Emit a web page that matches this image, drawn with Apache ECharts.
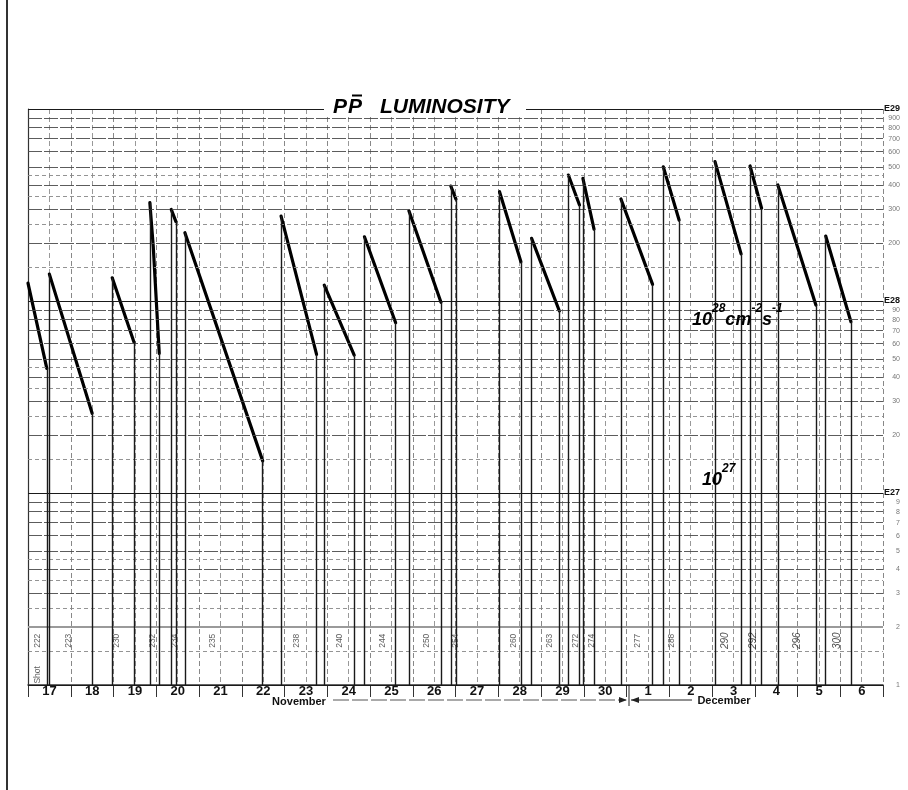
<!DOCTYPE html>
<html><head><meta charset="utf-8">
<script src="https://cdn.jsdelivr.net/npm/echarts@6/dist/echarts.min.js"></script>
<style>html,body{margin:0;padding:0;background:#fff}#c{width:908px;height:790px}</style>
</head><body><div id="c"></div>
<script>
// Day labels (Nov 17 .. Dec 6); x = days since Nov 17 00:00
const dayLabels = ['17','18','19','20','21','22','23','24','25','26','27','28','29','30','1','2','3','4','5','6'];

// Log grid (units of 1e26 cm^-2 s^-1)
const gridMajor = [1,2,3,4,5,6,7,8,9,10,20,30,40,50,60,70,80,90,100,200,300,400,500,600,700,800,900,1000];
const gridMajorLabels = ['1','2','3','4','5','6','7','8','9','E27','20','30','40','50','60','70','80','90','E28','200','300','400','500','600','700','800','900','E29'];
const gridHalf = [1.5,2.5,3.5,4.5,15,25,35,45,150,250,350,450];

// Stores: start, optional mid point, end (day, luminosity in 1e26)
const startDay = [0.00, 0.50, 1.97, 2.85, 3.35, 3.67, 5.92, 6.93, 7.87, 8.91, 9.89, 11.03, 11.78, 12.64, 12.98, 13.87, 14.86, 16.07, 16.89, 17.54, 18.66];
const startLum = [124, 138, 132, 325, 300, 227, 277, 121, 216, 295, 397, 371, 212, 453, 435, 340, 500, 532, 505, 402, 218];
const midDay   = [null, null, null, 2.93, null, null, null, null, null, null, null, null, null, null, null, null, null, null, null, null, null];
const midLum   = [null, null, null, 192, null, null, null, null, null, null, null, null, null, null, null, null, null, null, null, null, null];
const endDay   = [0.44, 1.50, 2.48, 3.07, 3.46, 5.49, 6.75, 7.63, 8.60, 9.66, 10.01, 11.53, 12.43, 12.90, 13.24, 14.61, 15.23, 16.68, 17.16, 18.43, 19.25];
const endLum   = [44.6, 26.0, 61.0, 53.4, 259, 14.7, 52.7, 52.3, 77.1, 98.4, 339, 160, 88.7, 316, 237, 122, 264, 176, 304, 95.3, 78.0];

// Shot numbers written along the bottom
const shotNames = ['222','223','230','232','234','235','238','240','244','250','254','260','263','272','274','277','288','290','292','296','300'];
const shotDays  = [0.23, 0.94, 2.08, 2.92, 3.44, 4.33, 6.29, 7.30, 8.30, 9.33, 10.01, 11.35, 12.21, 12.80, 13.19, 14.27, 15.06, 16.30, 16.96, 17.99, 18.93];
const shotLevel = 1.7;
const shotWordDay = 0.23, shotWordLevel = 1.13;

const chart = echarts.init(document.getElementById('c'), null, {renderer:'canvas'});
const FONT = 'Liberation Sans, Arial, sans-serif';

const gridLineData = [];
gridMajor.forEach((v, i) => {
  const isE = gridMajorLabels[i].charAt(0) === 'E';
  const isDecade = isE || v === 1;
  gridLineData.push({
    yAxis: v,
    lineStyle: isDecade ? {color:'#1a1a1a', width:1.1, type:'solid'}
             : (v === 2 ? {color:'#9a9a9a', width:2, type:'solid'} : {color:'#4a4a4a', width:0.9, type:[14,2]}),
    label: {
      show: true, position: 'end', distance: isE ? 1 : 3,
      formatter: isE ? '{e|' + gridMajorLabels[i] + '}' : '{n|' + gridMajorLabels[i] + '}',
      rich: {
        e: {fontSize: 9, fontWeight: 'bold', color: '#111', fontFamily: FONT},
        n: {fontSize: 7, color: '#777', width: 14, align: 'right', fontFamily: FONT}
      }
    }
  });
});
gridHalf.forEach(v => {
  gridLineData.push({yAxis: v, lineStyle: {color:'#888', width:0.9, type:[4,3]}, label:{show:false}});
});

const series = [];
series.push({
  type: 'scatter', data: [[0, 1]], symbolSize: 0, silent: true, z: 1, animation: false,
  markLine: {silent: true, symbol: ['none','none'], animation: false, data: gridLineData, emphasis:{disabled:true}}
});

for (let i = 0; i < startDay.length; i++) {
  const pts = [[startDay[i], startLum[i]]];
  if (midDay[i] !== null) pts.push([midDay[i], midLum[i]]);
  pts.push([endDay[i], endLum[i]]);
  const drops = [];
  if (startDay[i] > 0) drops.push([{coord:[startDay[i], 1]}, {coord:[startDay[i], startLum[i]]}]);
  drops.push([{coord:[endDay[i], endLum[i]]}, {coord:[endDay[i], 1]}]);
  series.push({
    type: 'line', data: pts, symbol: 'none', showSymbol: false, silent: true, animation: false, z: 4,
    lineStyle: {color: '#000', width: 3.2, cap: 'round'},
    markLine: {silent: true, symbol: ['none','none'], animation: false, label: {show: false},
      lineStyle: {color: '#1a1a1a', width: 1.4, type: 'solid'}, emphasis:{disabled:true}, data: drops}
  });
}

const shotData = shotNames.map((n, i) => ({value: [shotDays[i], shotLevel], name: n,
  label: i >= 17 ? {fontSize: 10, fontStyle: 'italic', color: '#222'} : {}}));
shotData.push({value: [shotWordDay, shotWordLevel], name: 'Shot'});
series.push({
  type: 'scatter', data: shotData, symbolSize: 0, silent: true, z: 3, animation: false,
  label: {show: true, position: 'inside', rotate: 90, formatter: '{b}', fontSize: 8.5, color: '#333', fontFamily: FONT}
});

const option = {
  backgroundColor: '#fff',
  animation: false,
  grid: {left: 28, right: 25, top: 109, bottom: 105, containLabel: false, outerBoundsMode: 'none'},
  xAxis: {
    type: 'value', min: 0, max: 20, interval: 1,
    axisLine: {show: true, lineStyle: {color: '#333', width: 1.5}},
    axisTick: {show: true, length: 12, lineStyle: {color: '#333', width: 1}},
    axisLabel: {margin: 0, formatter: v => dayLabels[Math.round(v)] !== undefined && Math.round(v) < 20 ? dayLabels[Math.round(v)] : '',
      fontSize: 13, fontWeight: 'bold', color: '#111', fontFamily: FONT, padding: [0, 0, 0, 43]},
    splitLine: {show: true, lineStyle: {color: '#888', type: [5, 3], width: 1}},
    minorTick: {show: false, splitNumber: 2},
    minorSplitLine: {show: true, lineStyle: {color: '#999', type: [5, 3], width: 1}}
  },
  yAxis: {
    type: 'log', logBase: 10, min: 1, max: 1000, position: 'right',
    axisLine: {show: true, lineStyle: {color: '#333', width: 1.2}},
    axisTick: {show: false}, axisLabel: {show: false}, splitLine: {show: false}, minorSplitLine: {show: false}
  },
  series: series,
  graphic: [
    {type: 'line', shape: {x1: 7, y1: 0, x2: 7, y2: 790}, style: {stroke: '#333', lineWidth: 2}, z: 10},
    {type: 'rect', shape: {x: 324, y: 94, width: 202, height: 20}, style: {fill: '#fff'}, z: 20},
    {type: 'text', x: 333, y: 107, z: 21, style: {text: 'P', font: 'italic bold 21px ' + FONT, fill: '#000', verticalAlign: 'middle'}},
    {type: 'text', x: 348, y: 107, z: 21, style: {text: 'P', font: 'italic bold 21px ' + FONT, fill: '#000', verticalAlign: 'middle'}},
    {type: 'line', shape: {x1: 352, y1: 95.5, x2: 362, y2: 95.5}, style: {stroke: '#000', lineWidth: 2}, z: 21},
    {type: 'text', x: 380, y: 107, z: 21, style: {text: 'LUMINOSITY', font: 'italic bold 21px ' + FONT, fill: '#000', verticalAlign: 'middle'}},
    {type: 'text', x: 692, y: 303, z: 21, style: {
      text: '{b|10}{s|28}{b|cm}{s|-2}{b|s}{s|-1}', verticalAlign: 'top', fill: '#000',
      rich: {
        b: {fontSize: 18, fontStyle: 'italic', fontWeight: 'bold', fontFamily: FONT, lineHeight: 26, verticalAlign: 'bottom'},
        s: {fontSize: 12, fontStyle: 'italic', fontWeight: 'bold', fontFamily: FONT, lineHeight: 14, verticalAlign: 'top'}
      }}},
    {type: 'text', x: 702, y: 463, z: 21, style: {
      text: '{b|10}{s|27}', verticalAlign: 'top', fill: '#000',
      rich: {
        b: {fontSize: 18, fontStyle: 'italic', fontWeight: 'bold', fontFamily: FONT, lineHeight: 26, verticalAlign: 'bottom'},
        s: {fontSize: 12, fontStyle: 'italic', fontWeight: 'bold', fontFamily: FONT, lineHeight: 14, verticalAlign: 'top'}
      }}},
    {type: 'text', x: 299, y: 702, z: 21, style: {text: 'November', font: 'bold 11px ' + FONT, fill: '#111', align: 'center', verticalAlign: 'middle'}},
    {type: 'line', shape: {x1: 333, y1: 700, x2: 626, y2: 700}, style: {stroke: '#555', lineWidth: 1, lineDash: [16, 3]}, z: 10},
    {type: 'polygon', shape: {points: [[619, 697], [627, 700], [619, 703]]}, style: {fill: '#222'}, z: 10},
    {type: 'line', shape: {x1: 629, y1: 686, x2: 629, y2: 706}, style: {stroke: '#222', lineWidth: 1}, z: 10},
    {type: 'polygon', shape: {points: [[639, 697], [631, 700], [639, 703]]}, style: {fill: '#222'}, z: 10},
    {type: 'line', shape: {x1: 631, y1: 700, x2: 692, y2: 700}, style: {stroke: '#222', lineWidth: 1}, z: 10},
    {type: 'text', x: 724, y: 701, z: 21, style: {text: 'December', font: 'bold 11px ' + FONT, fill: '#111', align: 'center', verticalAlign: 'middle'}}
  ]
};
chart.setOption(option);
</script>
</body></html>
